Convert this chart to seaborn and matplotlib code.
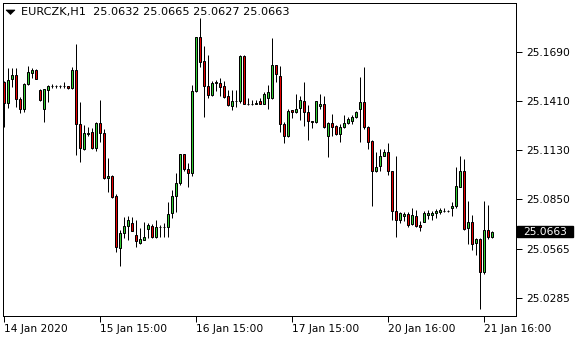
import matplotlib
matplotlib.use("Agg")
import matplotlib.pyplot as plt
import matplotlib.transforms as mtransforms
from matplotlib.patches import Rectangle, Polygon
import numpy as np
import pandas as pd
import seaborn as sns

symbol = "EURCZK,H1"
opens = [25.1521, 25.1397, 25.1536, 25.1559, 25.1420, 25.1365, 25.1508, 25.1568, 25.1588, 25.1473,
         25.1365, 25.1473, 25.1496, 25.1496, 25.1494, 25.1496, 25.1496, 25.1483, 25.1588, 25.1280,
         25.1138, 25.1224, 25.1235, 25.1142, 25.1286, 25.1226, 25.0969, 25.0984, 25.0866, 25.0570,
         25.0658, 25.0698, 25.0711, 25.0645, 25.0601, 25.0618, 25.0679, 25.0698, 25.0633, 25.0692,
         25.0690, 25.0688, 25.0767, 25.0867, 25.0940, 25.1106, 25.1024, 25.1000, 25.1468, 25.1774,
         25.1640, 25.1494, 25.1447, 25.1511, 25.1515, 25.1494, 25.1439, 25.1380, 25.1410, 25.1412,
         25.1667, 25.1393, 25.1395, 25.1395, 25.1412, 25.1395, 25.1426, 25.1426, 25.1616, 25.1555,
         25.1277, 25.1210, 25.1357, 25.1346, 25.1369, 25.1410, 25.1346, 25.1296, 25.1288, 25.1384,
         25.1393, 25.1207, 25.1283, 25.1269, 25.1220, 25.1260, 25.1283, 25.1298, 25.1317, 25.1363,
         25.1407, 25.1264, 25.1184, 25.1007, 25.1037, 25.1098, 25.1117, 25.1010, 25.0782, 25.0727,
         25.0755, 25.0763, 25.0706, 25.0753, 25.0702, 25.0721, 25.0759, 25.0759, 25.0769, 25.0778,
         25.0784, 25.0782, 25.0797, 25.0807, 25.0921, 25.1012, 25.0683, 25.0717, 25.0597, 25.0620,
         25.0435, 25.0673, 25.0632]
highs = [25.1525, 25.1597, 25.1597, 25.1597, 25.1435, 25.1510, 25.1612, 25.1601, 25.1594, 25.1477,
         25.1481, 25.1502, 25.1506, 25.1504, 25.1504, 25.1517, 25.1498, 25.1607, 25.1734, 25.1407,
         25.1273, 25.1264, 25.1254, 25.1292, 25.1416, 25.1250, 25.1083, 25.0988, 25.0877, 25.0673,
         25.0749, 25.0753, 25.0748, 25.0730, 25.0683, 25.0721, 25.0711, 25.0706, 25.0730, 25.0702,
         25.0710, 25.0835, 25.0902, 25.0997, 25.1108, 25.1108, 25.1054, 25.1502, 25.1776, 25.1883,
         25.1725, 25.1673, 25.1525, 25.1530, 25.1540, 25.1525, 25.1473, 25.1473, 25.1473, 25.1673,
         25.1673, 25.1429, 25.1418, 25.1416, 25.1426, 25.1460, 25.1502, 25.1772, 25.1618, 25.1610,
         25.1292, 25.1365, 25.1359, 25.1449, 25.1441, 25.1517, 25.1388, 25.1298, 25.1412, 25.1449,
         25.1439, 25.1288, 25.1334, 25.1273, 25.1277, 25.1330, 25.1321, 25.1330, 25.1353, 25.1549,
         25.1603, 25.1269, 25.1188, 25.1121, 25.1136, 25.1136, 25.1168, 25.1012, 25.1096, 25.0778,
         25.0774, 25.0778, 25.0801, 25.0788, 25.0725, 25.0782, 25.0788, 25.0782, 25.0793, 25.0797,
         25.0797, 25.0788, 25.0835, 25.1031, 25.1096, 25.1079, 25.0839, 25.0759, 25.0626, 25.0626,
         25.0839, 25.0816, 25.0665]
lows = [25.1264, 25.1369, 25.1492, 25.1378, 25.1340, 25.1346, 25.1502, 25.1544, 25.1536, 25.1412,
        25.1292, 25.1407, 25.1483, 25.1486, 25.1487, 25.1487, 25.1479, 25.1479, 25.1102, 25.1060,
        25.1130, 25.1212, 25.1136, 25.1125, 25.1178, 25.0965, 25.0892, 25.0858, 25.0549, 25.0469,
        25.0626, 25.0616, 25.0664, 25.0578, 25.0591, 25.0616, 25.0629, 25.0626, 25.0626, 25.0635,
        25.0635, 25.0635, 25.0740, 25.0778, 25.0930, 25.1012, 25.0921, 25.0984, 25.1460, 25.1607,
        25.1321, 25.1429, 25.1441, 25.1468, 25.1441, 25.1426, 25.1382, 25.1359, 25.1378, 25.1397,
        25.1391, 25.1388, 25.1388, 25.1391, 25.1391, 25.1391, 25.1363, 25.1422, 25.1517, 25.1231,
        25.1168, 25.1203, 25.1315, 25.1340, 25.1302, 25.1269, 25.1188, 25.1258, 25.1283, 25.1365,
        25.1258, 25.1087, 25.1212, 25.1216, 25.1178, 25.1258, 25.1277, 25.1277, 25.1311, 25.1174,
        25.1248, 25.1136, 25.0812, 25.1003, 25.1007, 25.1096, 25.0988, 25.0730, 25.0635, 25.0711,
        25.0725, 25.0692, 25.0702, 25.0692, 25.0667, 25.0717, 25.0736, 25.0730, 25.0740, 25.0763,
        25.0778, 25.0778, 25.0755, 25.0797, 25.0919, 25.0673, 25.0593, 25.0559, 25.0527, 25.0222,
        25.0420, 25.0620, 25.0627]
closes = [25.1397, 25.1530, 25.1559, 25.1420, 25.1365, 25.1508, 25.1574, 25.1588, 25.1536, 25.1416,
          25.1479, 25.1496, 25.1496, 25.1494, 25.1496, 25.1494, 25.1483, 25.1588, 25.1277, 25.1140,
          25.1226, 25.1229, 25.1140, 25.1283, 25.1226, 25.0969, 25.0984, 25.0864, 25.0574, 25.0658,
          25.0698, 25.0727, 25.0669, 25.0612, 25.0620, 25.0631, 25.0702, 25.0635, 25.0692, 25.0690,
          25.0692, 25.0763, 25.0867, 25.0940, 25.1106, 25.1022, 25.0997, 25.1468, 25.1774, 25.1635,
          25.1496, 25.1445, 25.1511, 25.1519, 25.1492, 25.1435, 25.1388, 25.1410, 25.1412, 25.1669,
          25.1393, 25.1395, 25.1395, 25.1397, 25.1393, 25.1449, 25.1460, 25.1616, 25.1563, 25.1277,
          25.1212, 25.1353, 25.1346, 25.1365, 25.1416, 25.1349, 25.1298, 25.1287, 25.1410, 25.1393,
          25.1264, 25.1283, 25.1264, 25.1220, 25.1264, 25.1283, 25.1306, 25.1317, 25.1346, 25.1407,
          25.1264, 25.1178, 25.1007, 25.1035, 25.1098, 25.1117, 25.1012, 25.0784, 25.0727, 25.0769,
          25.0765, 25.0702, 25.0759, 25.0698, 25.0692, 25.0769, 25.0769, 25.0769, 25.0782, 25.0788,
          25.0782, 25.0784, 25.0810, 25.0925, 25.1012, 25.0677, 25.0717, 25.0593, 25.0620, 25.0431,
          25.0673, 25.0635, 25.0663]

ytick_values = [25.1690, 25.1410, 25.1130, 25.0850, 25.0565, 25.0285]
ytick_labels = ["25.1690", "25.1410", "25.1130", "25.0850", "25.0565", "25.0285"]
xtick_bars = [0, 24, 48, 72, 96, 120]
xtick_labels = ["14 Jan 2020", "15 Jan 15:00", "16 Jan 15:00", "17 Jan 15:00",
                "20 Jan 16:00", "21 Jan 16:00"]

df = pd.DataFrame({"open": opens, "high": highs, "low": lows, "close": closes})
df["bar"] = np.arange(len(df))
df["bull"] = df["close"] >= df["open"]

sns.set_theme(style="white")
plt.rcParams["font.family"] = ["DejaVu Sans"]
FS = 7.7

W, H = 580, 340
fig = plt.figure(figsize=(W / 100, H / 100), dpi=100)
ax = fig.add_axes([3 / W, 24 / H, 513 / W, 313 / H])

GREEN = "#32CD32"
RED = "#E60000"
px = 0.72  # 1 pixel in points

ax.vlines(df["bar"], df["low"], df["high"], color="black", linewidth=px, zorder=2)
body_bottom = np.minimum(df["open"], df["close"])
body_h = np.abs(df["close"] - df["open"])
ax.bar(df["bar"], body_h, bottom=body_bottom, width=0.5,
       color=np.where(df["bull"], GREEN, RED), edgecolor="black",
       linewidth=px, zorder=3)

ax.set_xlim(-0.125, 128.125)
ax.set_ylim(25.0181, 25.1970)

for s in ax.spines.values():
    s.set_color("black")
    s.set_linewidth(px)
    s.set_visible(True)

ax.yaxis.tick_right()
ax.set_yticks(ytick_values)
ax.set_yticklabels(ytick_labels)
ax.set_xticks(xtick_bars)
ax.set_xticklabels(xtick_labels, ha="left")
ax.tick_params(axis="y", which="both", right=True, left=False, length=4, width=px,
               color="black", labelsize=FS, pad=3, labelcolor="black")
ax.tick_params(axis="x", which="both", bottom=True, length=4, width=px,
               color="black", labelsize=FS, pad=2, labelcolor="black")
for lbl in ax.get_xticklabels():
    lbl.set_horizontalalignment("left")
ax.grid(False)

# current price box
last = closes[-1]
yr = (25.1970 - 25.0181) / 313.0
blend = mtransforms.blended_transform_factory(ax.transAxes, ax.transData)
ax.add_patch(Rectangle((1.0015, last - 5.5 * yr), 56 / 513, 11 * yr, transform=blend,
                       facecolor="black", edgecolor="black", clip_on=False, zorder=5))
ax.text(520 / 513, last, f"{last:.4f}", transform=blend, color="white",
        fontsize=FS, va="center", ha="left", clip_on=False, zorder=6)

# header
fig.patches.append(Polygon([(6 / W, 1 - 10 / H), (15 / W, 1 - 10 / H), (10.5 / W, 1 - 14.5 / H)],
                           closed=True, transform=fig.transFigure, facecolor="black",
                           edgecolor="black", linewidth=0.5))
header = f"{symbol}  {opens[-1]:.4f} {highs[-1]:.4f} {lows[-1]:.4f} {closes[-1]:.4f}"
fig.text(21 / W, 1 - 12 / H, header, fontsize=8.1, va="center", ha="left", color="black")

fig.savefig("out.png", dpi=100, facecolor="white")
